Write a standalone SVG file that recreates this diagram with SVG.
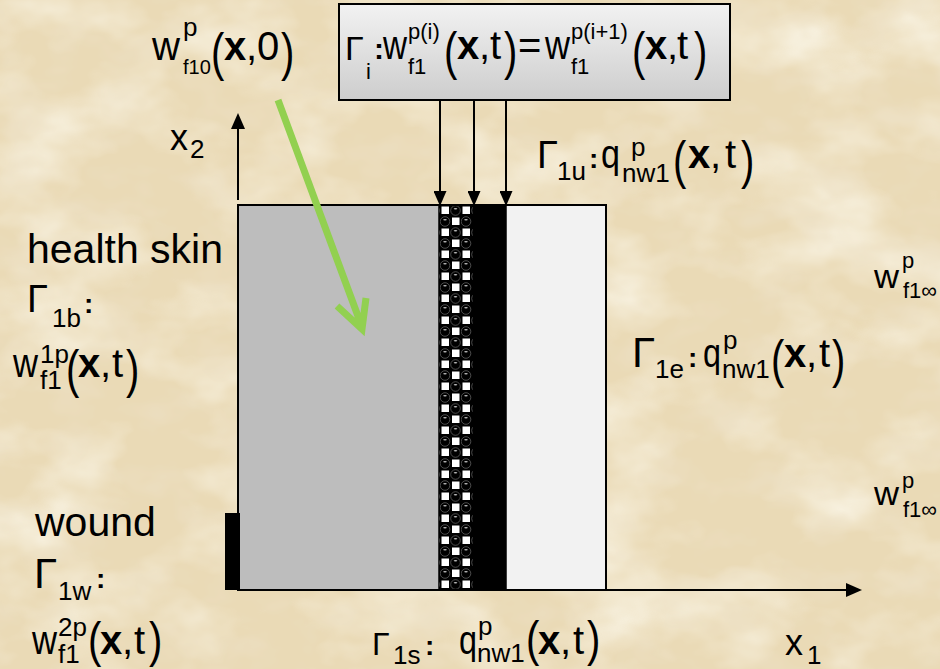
<svg xmlns="http://www.w3.org/2000/svg" width="940" height="669" viewBox="0 0 940 669">
<style>
.t{font-family:"Liberation Sans",Arial,"DejaVu Sans",sans-serif;fill:#000}
.m{font-size:40px}
.g{font-size:38px}
.s{font-size:26px}
.ss{font-size:22px}
.b{font-weight:bold}
.ln{stroke:#000;stroke-width:2;fill:none}
</style>
<defs>
<filter id="paperL" x="0" y="0" width="100%" height="100%">
<feTurbulence type="fractalNoise" baseFrequency="0.009 0.014" numOctaves="4" seed="7"/>
<feColorMatrix type="matrix" values="0 0 0 0 0.97  0 0 0 0 0.94  0 0 0 0 0.84  1.8 0 0 0 -0.8"/>
</filter>
<filter id="paperD" x="0" y="0" width="100%" height="100%">
<feTurbulence type="fractalNoise" baseFrequency="0.02 0.03" numOctaves="3" seed="3"/>
<feColorMatrix type="matrix" values="0 0 0 0 0.84  0 0 0 0 0.74  0 0 0 0 0.55  0 1.6 0 0 -0.75"/>
</filter>
<linearGradient id="boxg" x1="0" y1="0" x2="0" y2="1">
<stop offset="0" stop-color="#f2f2f2"/>
<stop offset="1" stop-color="#cdcdcd"/>
</linearGradient>
<pattern id="beads" width="21" height="22" patternUnits="userSpaceOnUse" x="440" y="205">
<rect width="21" height="22" fill="#000"/>
<rect x="1.5" y="1.5" width="7.5" height="7.5" fill="#fff"/>
<rect x="12" y="12.5" width="7.5" height="7.5" fill="#fff"/>
<circle cx="15.5" cy="5.5" r="4.8" fill="#000" stroke="#6a6a6a" stroke-width="0.7"/>
<circle cx="5" cy="16.5" r="4.8" fill="#000" stroke="#6a6a6a" stroke-width="0.7"/>
<ellipse cx="15.5" cy="3.8" rx="1.8" ry="0.8" fill="#bbb"/>
<ellipse cx="5" cy="14.8" rx="1.8" ry="0.8" fill="#bbb"/>
</pattern>
<marker id="ah" viewBox="0 0 15 13" refX="12" refY="6.5" markerWidth="15" markerHeight="13" orient="auto" markerUnits="userSpaceOnUse">
<path d="M0,0 L15,6.5 L0,13 Z" fill="#000"/>
</marker>
<marker id="ahx" viewBox="0 0 16 14" refX="13" refY="7" markerWidth="16" markerHeight="14" orient="auto" markerUnits="userSpaceOnUse">
<path d="M0,0 L16,7 L0,14 Z" fill="#000"/>
</marker>
</defs>

<rect width="940" height="669" fill="#eadab6"/>
<rect width="940" height="669" filter="url(#paperL)"/>
<rect width="940" height="669" filter="url(#paperD)"/>

<g id="domain">
<rect x="238" y="205" width="201" height="385" fill="#bdbdbd" stroke="#000" stroke-width="1.5"/>
<rect x="439" y="205" width="34" height="385" fill="url(#beads)"/>
<rect x="473" y="205" width="33" height="385" fill="#000"/>
<rect x="506" y="205" width="100" height="385" fill="#f2f2f2" stroke="#000" stroke-width="1.5"/>
<rect x="238" y="205" width="368" height="385" fill="none" stroke="#000" stroke-width="2"/>
</g>

<g id="wound-edge">
<rect x="225" y="513" width="15" height="77" fill="#000"/>
</g>

<g id="interface-box">
<rect x="339" y="4" width="391" height="96" fill="url(#boxg)" stroke="#000" stroke-width="2"/>
<text class="t" style="font-size:34px" x="345" y="60">Γ</text>
<text class="t ss" x="366" y="79">i</text>
<text class="t b" style="font-size:30px" x="374" y="59">:</text>
<text class="t m" x="383" y="59" textLength="24" lengthAdjust="spacingAndGlyphs">w</text>
<text class="t ss" x="408" y="39">p(i)</text>
<text class="t ss" x="408" y="74">f1</text>
<text class="t m" transform="translate(444,69) scale(1,1.3)">(</text>
<text class="t m b" x="457" y="59">x</text>
<text class="t m" x="479" y="59">,</text>
<text class="t m" x="490" y="59">t</text>
<text class="t m" transform="translate(504,69) scale(1,1.3)">)</text>
<text class="t m" x="518" y="59">=</text>
<text class="t m" x="545" y="59" textLength="25" lengthAdjust="spacingAndGlyphs">w</text>
<text class="t ss" x="571" y="39">p(i+1)</text>
<text class="t ss" x="571" y="74">f1</text>
<text class="t m" transform="translate(632,69) scale(1,1.3)">(</text>
<text class="t m b" x="645" y="59">x</text>
<text class="t m" x="667" y="59">,</text>
<text class="t m" x="677" y="59">t</text>
<text class="t m" transform="translate(694,69) scale(1,1.3)">)</text>
</g>

<g id="initial-label">
<text class="t m" x="152" y="60" textLength="28" lengthAdjust="spacingAndGlyphs">w</text>
<text class="t s" x="183" y="36">p</text>
<text class="t" style="font-size:20px" x="183" y="74">f10</text>
<text class="t m" transform="translate(211,70) scale(1,1.3)">(</text>
<text class="t m b" x="224" y="60">x</text>
<text class="t m" x="246" y="60">,0</text>
<text class="t m" transform="translate(281,70) scale(1,1.3)">)</text>
</g>

<g id="x2-label">
<text class="t" style="font-size:36px" x="170" y="150">x</text>
<text class="t s" x="190" y="158">2</text>
</g>

<g id="x1-label">
<text class="t" style="font-size:36px" x="785" y="655">x</text>
<text class="t s" x="807" y="664">1</text>
</g>

<g id="gamma-1u">
<text class="t g" x="537" y="168">Γ</text>
<text class="t s" x="557" y="180">1u</text>
<text class="t b" style="font-size:28px" x="589" y="168">:</text>
<text class="t m" x="601" y="168" textLength="19" lengthAdjust="spacingAndGlyphs">q</text>
<text class="t s" x="631" y="156">p</text>
<text class="t s" x="622" y="182">nw1</text>
<text class="t m" transform="translate(673,178) scale(1,1.3)">(</text>
<text class="t m b" x="688" y="168">x</text>
<text class="t m" x="710" y="168">,</text>
<text class="t m" x="725" y="168">t</text>
<text class="t m" transform="translate(741,178) scale(1,1.3)">)</text>
</g>

<g id="gamma-1e">
<text class="t" style="font-size:42px" x="632" y="367">Γ</text>
<text class="t s" x="655" y="378">1e</text>
<text class="t b" style="font-size:28px" x="688" y="367">:</text>
<text class="t m" x="703" y="367" textLength="18" lengthAdjust="spacingAndGlyphs">q</text>
<text class="t s" x="723" y="349">p</text>
<text class="t s" x="722" y="378">nw1</text>
<text class="t m" transform="translate(771,377) scale(1,1.3)">(</text>
<text class="t m b" x="784" y="367">x</text>
<text class="t m" x="806" y="367">,</text>
<text class="t m" x="819" y="367">t</text>
<text class="t m" transform="translate(832,377) scale(1,1.3)">)</text>
</g>

<g id="w-inf-top">
<text class="t" style="font-size:34px" x="874" y="288" textLength="25" lengthAdjust="spacingAndGlyphs">w</text>
<text class="t ss" x="902" y="268">p</text>
<text class="t ss" x="903" y="298">f1∞</text>
</g>

<g id="w-inf-bottom">
<text class="t" style="font-size:34px" x="874" y="505" textLength="25" lengthAdjust="spacingAndGlyphs">w</text>
<text class="t ss" x="902" y="488">p</text>
<text class="t ss" x="903" y="517">f1∞</text>
</g>

<g id="healthy-skin">
<text class="t" style="font-size:41px" x="27" y="263">health skin</text>
<text class="t g" x="27" y="312">Γ</text>
<text class="t s" x="52" y="327">1b</text>
<text class="t b" style="font-size:28px" x="84" y="313">:</text>
<text class="t m" x="13" y="377" textLength="25" lengthAdjust="spacingAndGlyphs">w</text>
<text class="t s" x="40" y="363">1p</text>
<text class="t s" x="40" y="389">f1</text>
<text class="t m" transform="translate(66,387) scale(1,1.3)">(</text>
<text class="t m b" x="78" y="377">x</text>
<text class="t m" x="100" y="377">,</text>
<text class="t m" x="112" y="377">t</text>
<text class="t m" transform="translate(126,387) scale(1,1.3)">)</text>
</g>

<g id="wound">
<text class="t" style="font-size:41px" x="35" y="536">wound</text>
<text class="t" style="font-size:42px" x="34" y="588">Γ</text>
<text class="t s" x="58" y="600">1w</text>
<text class="t b" style="font-size:28px" x="96" y="588">:</text>
<text class="t m" x="32" y="654" textLength="25" lengthAdjust="spacingAndGlyphs">w</text>
<text class="t s" x="58" y="636">2p</text>
<text class="t s" x="58" y="663">f1</text>
<text class="t m" transform="translate(88,657) scale(1,1.25)">(</text>
<text class="t m b" x="100" y="654">x</text>
<text class="t m" x="122" y="654">,</text>
<text class="t m" x="134" y="654">t</text>
<text class="t m" transform="translate(149,657) scale(1,1.25)">)</text>
</g>

<g id="gamma-1s">
<text class="t" style="font-size:32px" x="372" y="655">Γ</text>
<text class="t s" x="393" y="664">1s</text>
<text class="t b" style="font-size:28px" x="425" y="655">:</text>
<text class="t m" x="459" y="654" textLength="18" lengthAdjust="spacingAndGlyphs">q</text>
<text class="t s" x="478" y="635">p</text>
<text class="t s" x="477" y="662">nw1</text>
<text class="t m" transform="translate(526,656) scale(1,1.25)">(</text>
<text class="t m b" x="538" y="654">x</text>
<text class="t m" x="560" y="654">,</text>
<text class="t m" x="573" y="654">t</text>
<text class="t m" transform="translate(587,656) scale(1,1.25)">)</text>
</g>

<g id="connectors">
<path class="ln" d="M440,100 V203" marker-end="url(#ah)"/>
<path class="ln" d="M474,100 V203" marker-end="url(#ah)"/>
<path class="ln" d="M506,100 V203" marker-end="url(#ah)"/>
<path class="ln" d="M238,200 V116" marker-end="url(#ahx)"/>
<path class="ln" stroke-width="2.5" d="M237,590 H859" marker-end="url(#ahx)"/>
<path d="M278,100 L362,327 M337,306 L362,329 L366,298" fill="none" stroke="#92d050" stroke-width="7" stroke-linejoin="miter"/>
</g>
</svg>
